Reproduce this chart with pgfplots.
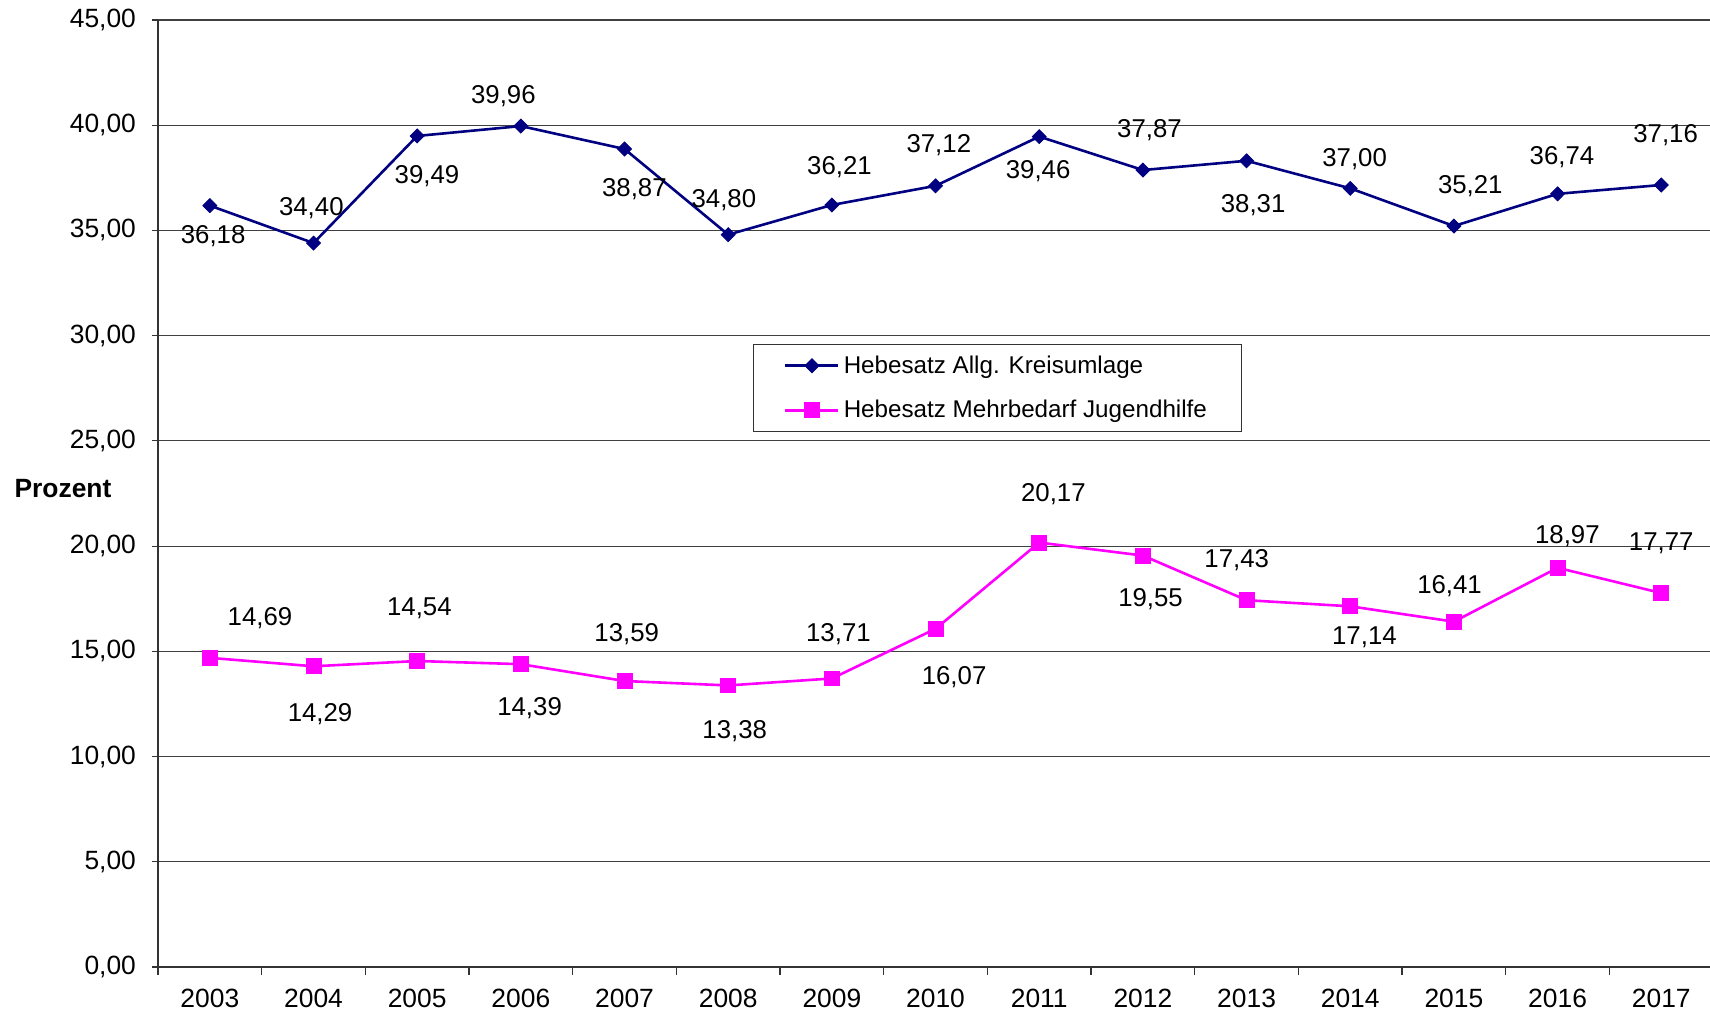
\documentclass[border=0pt]{standalone}
\usepackage{pgfplots}
\pgfplotsset{compat=1.18}
\usepackage{pgfplotstable}
\usepackage{fontspec}
\setmainfont{Liberation Sans}
\definecolor{navyc}{HTML}{000080}
\definecolor{magc}{HTML}{FF00FF}

\pgfplotstableread{
x y dx dy
0 36.18 3 -28
1 34.40 -2 32
2 39.49 9 -37
3 39.96 -16 27
4 38.87 9 -37
5 34.80 -4 32
6 36.21 7 35
7 37.12 3 37
8 39.46 -1 -32
9 37.87 6 37
10 38.31 6 -41
11 37.00 4 27
12 35.21 15 37
13 36.74 4 34
14 37.16 4 46
}\tblue

\pgfplotstableread{
x y dx dy
0 14.69 46 36
1 14.29 6 -44
2 14.54 2 48
3 14.39 8 -40
4 13.59 2 43
5 13.38 6 -42
6 13.71 6 41
7 16.07 17 -44
8 20.17 13 44
9 19.55 7 -40
10 17.43 -9 37
11 17.14 13 -28
12 16.41 -4 33
13 18.97 9 29
14 17.77 0 46
}\tpink

\begin{document}
\begin{tikzpicture}[font=\fontsize{13.2}{15.5}\selectfont]
\begin{axis}[
  scale only axis,
  width=776pt, height=473.5pt,
  xmin=-0.5, xmax=14.47,
  ymin=0, ymax=45,
  axis x line=bottom, axis y line=left,
  axis line style={-, black!80, line width=0.6pt},
  xtick={0,...,14},
  xticklabels={2003,2004,2005,2006,2007,2008,2009,2010,2011,2012,2013,2014,2015,2016,2017},
  minor xtick={-0.5,0.5,...,13.5},
  major x tick style={draw=none},
  minor x tick style={black!80, line width=0.6pt},
  minor tick length=4pt,
  major tick length=3pt,
  tick align=outside,
  ytick={0,5,...,45},
  ymajorgrids,
  grid style={black!75, line width=0.6pt},
  y tick style={black!80, line width=0.6pt},
  yticklabel style={xshift=-4.5pt, /pgf/number format/fixed, /pgf/number format/fixed zerofill, /pgf/number format/precision=2, /pgf/number format/use comma, /pgf/number format/assume math mode=true},
  xticklabel style={yshift=-4.6pt},
  clip=false,
  legend style={at={(rel axis cs:0.3834,0.6579)}, anchor=north west,
    draw=black!80, line width=0.5pt, inner xsep=15.3pt, inner ysep=3.5pt,
    row sep=8pt, font=\fontsize{12.1}{14.5}\selectfont},
  legend cell align=left,
  legend image code/.code={
    \draw[#1, mark=none] (0pt,0pt) -- (26.5pt,0pt);
    \draw[#1, only marks] plot coordinates {(13.25pt,0pt)};
  },
  nodes near coords={\pgfmathprintnumber[fixed,fixed zerofill,precision=2,use comma,assume math mode=true]{\pgfplotspointmeta}},
  visualization depends on={\thisrow{dx} \as \dx},
  visualization depends on={\thisrow{dy} \as \dy},
  nodes near coords style={anchor=center, black, xshift=\dx*0.545pt, yshift=\dy*0.545pt, font=\fontsize{12.9}{15}\selectfont},
]
\addplot[navyc, line width=1.3pt, mark=diamond*, mark size=3.5pt, mark options={fill=navyc, draw=navyc, line width=0.4pt, xscale=1.333}]
  table[x=x, y=y, meta=y] {\tblue};
\addlegendentry{Hebesatz Allg. Kreisumlage}
\addplot[magc, line width=1.3pt, mark=square*, mark size=3.7pt, mark options={fill=magc, draw=magc, line width=0.4pt}]
  table[x=x, y=y, meta=y] {\tpink};
\addlegendentry{Hebesatz Mehrbedarf Jugendhilfe}
\coordinate (bl) at (rel axis cs:0,0);
\node[font=\bfseries\fontsize{13.2}{15.5}\selectfont] at (rel axis cs:0,0.505) [xshift=-47.5pt] {Prozent};
\end{axis}
\pgfresetboundingbox
\path (bl) ++(-79pt,-23.5pt) rectangle ++(855pt,507pt);
\end{tikzpicture}
\end{document}
